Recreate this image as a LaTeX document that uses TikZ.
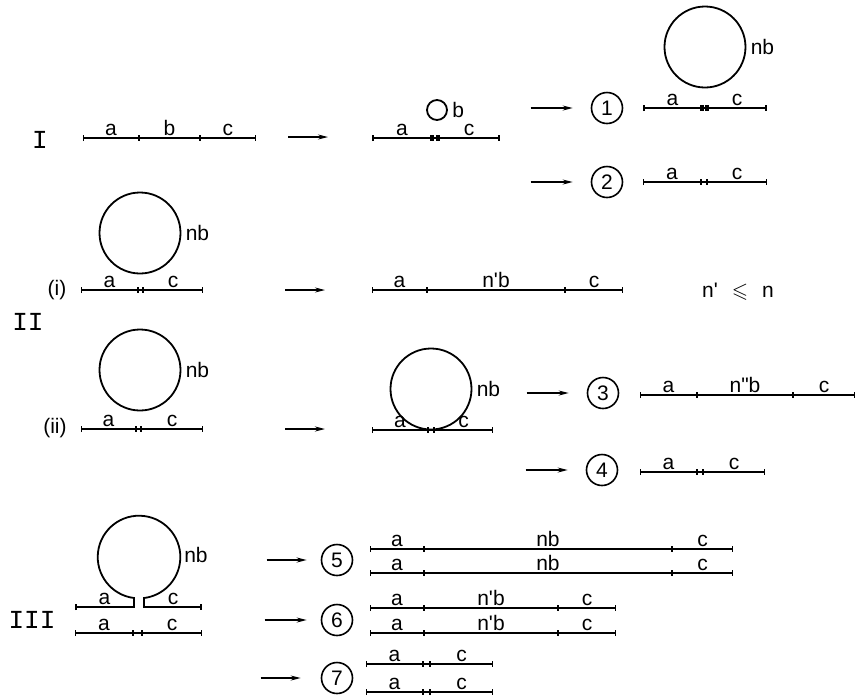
\documentclass[tikz,border=0pt]{standalone}
\usepackage{fontspec}
\usepackage{amssymb}
\setmainfont{Liberation Sans}
\newfontfamily\romfont{Liberation Mono}
\usetikzlibrary{arrows.meta,positioning}

\begin{document}
\begin{tikzpicture}[x=0.5pt,y=-0.5pt,
		every node/.style={font=\fontsize{10.5}{12}\selectfont, inner sep=1pt},
		strand/.style={line width=0.7pt, {Bar[width=3pt]}-{Bar[width=3pt]}},
		lbl/.style={above, inner sep=0.8pt},
		ring/.style={circle, draw, line width=0.9pt, minimum size=40.5pt, inner sep=0pt},
		num/.style={circle, draw, line width=0.8pt, minimum size=15.5pt, inner sep=0pt},
		rxn/.style={line width=0.6pt, -{Stealth[length=5pt,width=2.5pt]}},
		roman/.style={font=\romfont\fontsize{13}{14}\selectfont}]

	\useasboundingbox (0,0) rectangle (859,698);

	% I
	\node[roman] (rI) at (40,140) {I};
	\draw[strand] (83,138) -- node[lbl] (Ia) {a} (139,138);
	\draw[strand] (139,138) -- node[lbl] (Ib) {b} (200,138);
	\draw[strand] (200,138) -- node[lbl] (Ic) {c} (256,138);
	\draw[rxn] (288,137) -- (328,137);
	\node[ring, minimum size=10pt] (bI) at (437,110) {};
	\node[right=1pt of bI] (bIl) {b};
	\draw[strand, line width=0.9pt] (372,138) -- node[lbl] (Pa) {a} (432,138);
	\draw[strand, line width=0.9pt] (432,138) -- (438,138);
	\draw[strand, line width=0.9pt] (438,138) -- node[lbl] (Pc) {c} (500,138);

	\node[num] (n1) at (607,108) {1};
	\draw[rxn] ([xshift=-30pt]n1.west) -- ([xshift=-9pt]n1.west);
	\node[ring] (r1) at (705,47) {};
	\node[right=1pt of r1] (r1l) {nb};
	\draw[strand, line width=0.9pt] (643,108) -- node[lbl] (P1a) {a} (702,108);
	\draw[strand, line width=0.9pt] (702,108) -- (707,108);
	\draw[strand, line width=0.9pt] (707,108) -- node[lbl] (P1c) {c} (767,108);

	\node[num] (n2) at (607,182) {2};
	\draw[rxn] ([xshift=-30pt]n2.west) -- ([xshift=-9pt]n2.west);
	\draw[strand] (643,182) -- node[lbl] (P2a) {a} (701,182);
	\draw[strand] (701,182) -- (707,182);
	\draw[strand] (707,182) -- node[lbl] (P2c) {c} (767,182);

	% II (i)
	\node[roman] (rII) at (28,322) {II};
	\node (tagi) at (57,290) {(i)};
	\node[ring] (ri) at (140,233) {};
	\node[right=1pt of ri] (ril) {nb};
	\draw[strand] (81,290) -- node[lbl] (ia) {a} (138,290);
	\draw[strand] (138,290) -- (143,290);
	\draw[strand] (143,290) -- node[lbl] (ic) {c} (203,290);
	\draw[rxn] (285,290) -- (325,290);
	\draw[strand] (372,290) -- node[lbl] (Pia) {a} (427,290);
	\draw[strand] (427,290) -- node[lbl] (Pib) {n\textquotesingle b} (565,290);
	\draw[strand] (565,290) -- node[lbl] (Pic) {c} (623,290);
	\node (rel) at (738,292) {n\textquotesingle\hspace{7pt}$\leqslant$\hspace{7pt}n};

	% II (ii)
	\node (tagii) at (55,428) {(ii)};
	\node[ring] (rii) at (140,370) {};
	\node[right=1pt of rii] (riil) {nb};
	\draw[strand] (81,429) -- node[lbl] (iia) {a} (136,429);
	\draw[strand] (136,429) -- (141,429);
	\draw[strand] (141,429) -- node[lbl] (iic) {c} (203,429);
	\draw[rxn, line width=0.9pt] (285,429) -- (325,429);
	\node[ring] (Prii) at (431,389) {};
	\node[right=1pt of Prii] (Priil) {nb};
	\draw[strand] (372,430) -- node[lbl] (Piia) {a} (428,430);
	\draw[strand] (428,430) -- (434,430);
	\draw[strand] (434,430) -- node[lbl] (Piic) {c} (493,430);

	\node[num] (n3) at (603,393) {3};
	\draw[rxn] ([xshift=-30pt]n3.west) -- ([xshift=-9pt]n3.west);
	\draw[strand] (640,395) -- node[lbl] (P3a) {a} (697,395);
	\draw[strand] (697,395) -- node[lbl] (P3b) {n\textquotedbl b} (793,395);
	\draw[strand] (793,395) -- node[lbl] (P3c) {c} (855,395);

	\node[num] (n4) at (602,470) {4};
	\draw[rxn] ([xshift=-30pt]n4.west) -- ([xshift=-9pt]n4.west);
	\draw[strand] (640,472) -- node[lbl] (P4a) {a} (697,472);
	\draw[strand] (697,472) -- (703,472);
	\draw[strand] (703,472) -- node[lbl] (P4c) {c} (765,472);

	% III
	\node[roman] (rIII) at (32,620) {III};
	\draw[strand, line width=0.9pt] (75,607) -- node[lbl] (La) {a} (134,607) -- (134,598)
		arc[start angle=97, end angle=443, radius=41.3] -- (144,607) -- node[lbl] (Lc) {c} (202,607);
	\node (Lnb) at (196,555) {nb};
	\draw[strand] (75,633) -- node[lbl] (Ba) {a} (133,633);
	\draw[strand] (133,633) -- (142,633);
	\draw[strand] (142,633) -- node[lbl] (Bc) {c} (202,633);

	\node[num] (n5) at (337,560) {5};
	\draw[rxn, line width=0.9pt] ([xshift=-27pt]n5.west) -- ([xshift=-7pt]n5.west);
	\foreach \y in {549,573} {
		\draw[strand] (370,\y) -- node[lbl] {a} (424,\y);
		\draw[strand] (424,\y) -- node[lbl] {nb} (672,\y);
		\draw[strand] (672,\y) -- node[lbl] {c} (733,\y);
	}

	\node[num] (n6) at (337,620) {6};
	\draw[rxn] ([xshift=-28pt]n6.west) -- ([xshift=-7pt]n6.west);
	\foreach \y in {608,633} {
		\draw[strand] (370,\y) -- node[lbl] {a} (424,\y);
		\draw[strand] (424,\y) -- node[lbl] {n\textquotesingle b} (558,\y);
		\draw[strand] (558,\y) -- node[lbl] {c} (616,\y);
	}

	\node[num] (n7) at (337,678) {7};
	\draw[rxn] ([xshift=-30pt]n7.west) -- ([xshift=-10pt]n7.west);
	\foreach \y in {664,692} {
		\draw[strand] (366,\y) -- node[lbl] {a} (423,\y);
		\draw[strand] (423,\y) -- (430,\y);
		\draw[strand] (430,\y) -- node[lbl] {c} (493,\y);
	}
\end{tikzpicture}
\end{document}
